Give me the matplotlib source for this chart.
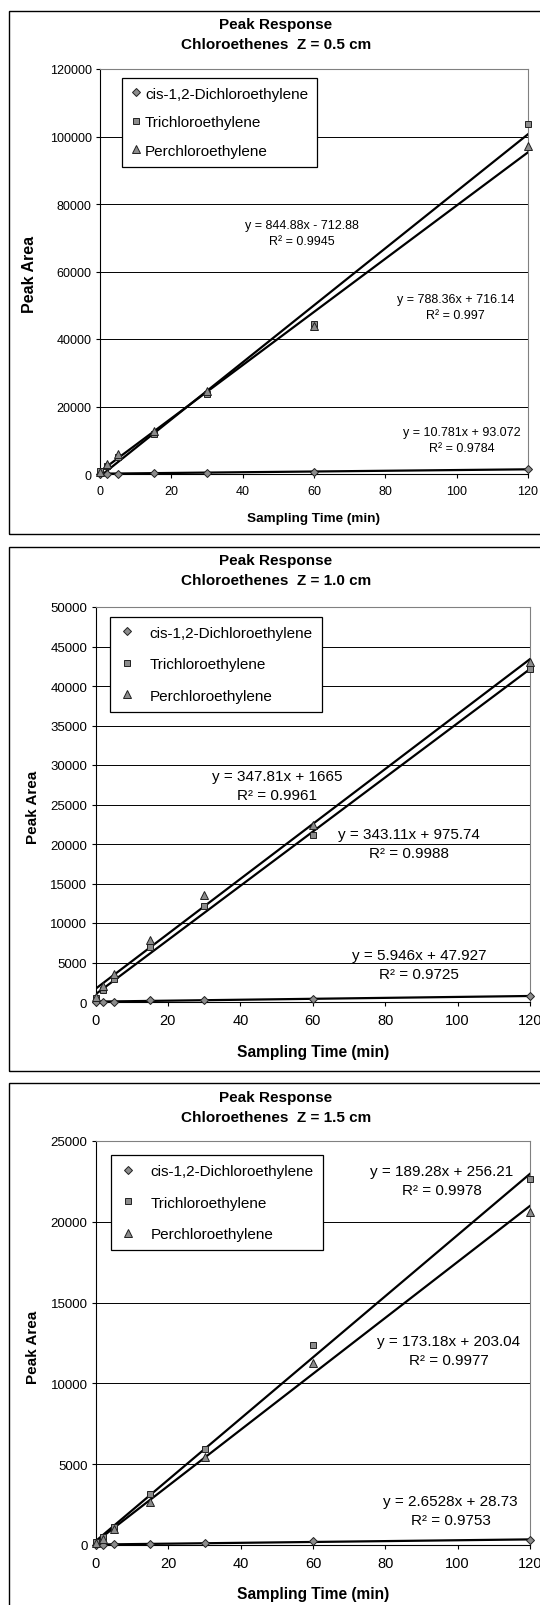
import matplotlib
matplotlib.use('Agg')
import matplotlib.pyplot as plt
from matplotlib.patches import Rectangle
import numpy as np

plt.rcParams['font.family'] = ['Liberation Sans', 'DejaVu Sans']

W, H = 540, 1606

# sampling times (min)
times = [0, 2, 5, 15, 30, 60, 120]
names = ['cis-1,2-Dichloroethylene', 'Trichloroethylene', 'Perchloroethylene']
depths = ['0.5', '1.0', '1.5']

# peak areas, per depth: cis, TCE, PCE
cis_05 = [0, 30, 60, 250, 400, 700, 1400]
tce_05 = [800, 2500, 5000, 12000, 23700, 44400, 103800]
pce_05 = [500, 3000, 6000, 12800, 24500, 44000, 97100]

cis_10 = [0, 20, 30, 220, 300, 435, 740]
tce_10 = [500, 1500, 2900, 6900, 12100, 21200, 42200]
pce_10 = [600, 2000, 3500, 7850, 13500, 22350, 43000]

cis_15 = [0, 20, 40, 60, 110, 230, 320]
tce_15 = [170, 490, 1120, 3180, 5930, 12400, 22630]
pce_15 = [100, 380, 1000, 2650, 5420, 11290, 20620]

# trendline coefficients as printed on the chart (slope, intercept, R2)
fit_05 = [(10.781, 93.072, '0.9784'), (844.88, -712.88, '0.9945'), (788.36, 716.14, '0.997')]
fit_10 = [(5.946, 47.927, '0.9725'), (343.11, 975.74, '0.9988'), (347.81, 1665, '0.9961')]
fit_15 = [(2.6528, 28.73, '0.9753'), (189.28, 256.21, '0.9978'), (173.18, 203.04, '0.9977')]

fit_text_05 = ['y = 10.781x + 93.072', 'y = 844.88x - 712.88', 'y = 788.36x + 716.14']
fit_text_10 = ['y = 5.946x + 47.927', 'y = 343.11x + 975.74', 'y = 347.81x + 1665']
fit_text_15 = ['y = 2.6528x + 28.73', 'y = 189.28x + 256.21', 'y = 173.18x + 203.04']

ymax = [120000, 50000, 25000]
ystep = [20000, 5000, 5000]

# label positions (data coords) for cis, TCE, PCE
label_pos = [
    [(101.5, 10000), (56.6, 71500), (99.7, 49500)],
    [(89.4, 4750), (86.5, 20080), (50.2, 27440)],
    [(98.1, 2120), (95.7, 22560), (97.6, 12010)],
]

# layout in pixels
axes_px = [(100, 528, 70, 475), (95.5, 530, 608, 1003), (96, 530, 1142, 1546)]
box_px = [(9, 12, 535), (9, 548, 1072), (9, 1084, 1640)]
title_y = [(25, 45), (561, 581), (1098, 1118)]
xlabel_y = [519, 1053, 1595]
ylabel_pos = [(30, 274), (33, 807), (33, 1347)]
legend_px = [(122, 78.5), (110, 617.5), (111, 1156)]

series = [[cis_05, tce_05, pce_05], [cis_10, tce_10, pce_10], [cis_15, tce_15, pce_15]]
fits = [fit_05, fit_10, fit_15]
fit_texts = [fit_text_05, fit_text_10, fit_text_15]

markers = ['D', 's', '^']
msizes = [4.5, 5, 5.5]

fig = plt.figure(figsize=(W / 100, H / 100), dpi=100)

for i in range(3):
    small = (i == 0)
    l, r, t, b = axes_px[i]
    ax = fig.add_axes([l / W, 1 - b / H, (r - l) / W, (b - t) / H])

    bx, bt, bb = box_px[i]
    fig.patches.append(Rectangle((bx / W, 1 - bb / H), (560 - bx) / W, (bb - bt) / H,
                                 transform=fig.transFigure, fill=False,
                                 edgecolor='black', linewidth=1.0))

    xfit = np.array([times[0], times[-1]])
    for k in range(3):
        slope, icpt, r2 = fits[i][k]
        ax.plot(xfit, slope * xfit + icpt, color='black', lw=1.6, zorder=3)
        ax.plot(times, series[i][k], linestyle='none', marker=markers[k],
                markersize=msizes[k], markerfacecolor='#8c8c8c',
                markeredgecolor='#202020', markeredgewidth=0.7,
                label=names[k], zorder=4, clip_on=False)
        tx, ty = label_pos[i][k]
        ax.text(tx, ty, fit_texts[i][k] + '\nR\u00b2 = ' + r2,
                ha='center', va='center', multialignment='center',
                fontsize=9 if small else 11, linespacing=1.45, zorder=5)

    ax.set_xlim(0, 120)
    ax.set_ylim(0, ymax[i])
    ax.set_xticks(range(0, 121, 20))
    ax.set_yticks(range(0, ymax[i] + 1, ystep[i]))
    ax.yaxis.grid(True, color='black', lw=0.7)
    ax.set_axisbelow(True)
    ax.tick_params(direction='out', length=3, width=0.8, colors='black')
    ax.tick_params(axis='x', labelsize=9 if small else 10.5, pad=5)
    ax.tick_params(axis='y', labelsize=9 if small else 9.5, pad=3)
    for s in ['top', 'right']:
        ax.spines[s].set_color('#808080')
    for s in ['left', 'bottom']:
        ax.spines[s].set_color('black')

    lx, ly = legend_px[i]
    ax_box = ax.get_position()
    anchor = ((lx / W - ax_box.x0) / ax_box.width, ((1 - ly / H) - ax_box.y0) / ax_box.height)
    leg = ax.legend(loc='upper left', bbox_to_anchor=anchor, borderaxespad=0,
                    fontsize=11, frameon=True, fancybox=False, framealpha=1,
                    edgecolor='black', handlelength=0.6 if small else 1.0,
                    handletextpad=0.3 if small else 1.0,
                    labelspacing=0.95 if small else 1.15,
                    borderpad=0.6)
    leg.get_frame().set_linewidth(0.9)
    leg.set_zorder(6)

    t1, t2 = title_y[i]
    fig.text(276 / W, 1 - t1 / H, 'Peak Response', ha='center', va='center',
             fontsize=11, fontweight='bold')
    fig.text(276 / W, 1 - t2 / H, 'Chloroethenes  Z = ' + depths[i] + ' cm',
             ha='center', va='center', fontsize=11, fontweight='bold')
    fig.text(313.5 / W, 1 - xlabel_y[i] / H, 'Sampling Time (min)', ha='center',
             va='center', fontsize=9.7 if small else 11.2, fontweight='bold')
    yx, yy = ylabel_pos[i]
    fig.text(yx / W, 1 - yy / H, 'Peak Area', ha='center', va='center',
             rotation=90, fontsize=11.5 if small else 11, fontweight='bold')

fig.savefig('out.png', dpi=100)
